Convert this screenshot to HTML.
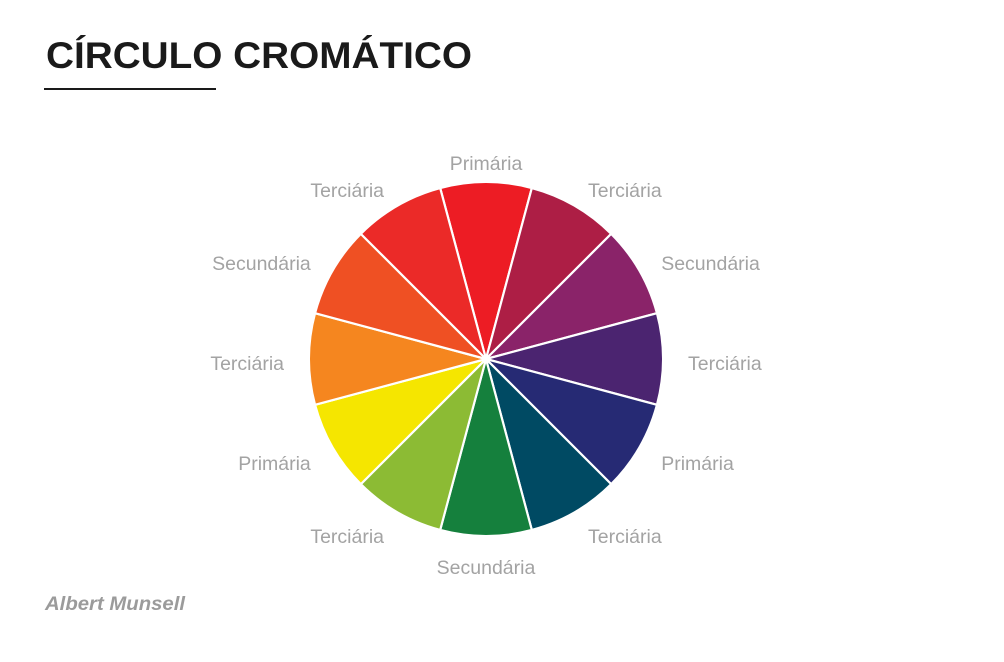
<!DOCTYPE html>
<html><head><meta charset="utf-8"><style>
body{margin:0;background:#fff;width:1004px;height:662px;overflow:hidden}
svg{display:block}
</style></head><body>
<svg id="chart" width="1004" height="662">
<text x="46" y="68" font-family="Liberation Sans, sans-serif" font-weight="bold" font-size="37" fill="#1a1a1a" textLength="426" lengthAdjust="spacingAndGlyphs">CÍRCULO CROMÁTICO</text>
<rect x="44" y="88" width="172" height="2" fill="#1a1a1a"/>
<text x="45" y="610" font-family="Liberation Sans, sans-serif" font-weight="bold" font-style="italic" font-size="19" fill="#9b9b9b" textLength="140" lengthAdjust="spacingAndGlyphs">Albert Munsell</text>
<g id="wheel"></g>
<g id="labels"></g>
</svg>
<script>
const categories=["Primária","Terciária","Secundária","Terciária","Primária","Terciária","Secundária","Terciária","Primária","Terciária","Secundária","Terciária"];
const values=[1,1,1,1,1,1,1,1,1,1,1,1];
const colors=["#ED1C24","#AD1E45","#8A2369","#4B2470","#262A74","#004A63","#15803D","#8CBB34","#F5E600","#F5861F","#EF5023","#EB2A28"];
const cx=486,cy=359,R=177;
const ns="http://www.w3.org/2000/svg";
const wheel=document.getElementById('wheel'),lab=document.getElementById('labels');
const total=values.reduce((a,b)=>a+b,0);
let acc=-values[0]/2;
function pt(frac,r){const a=frac*2*Math.PI;return [cx+r*Math.sin(a),cy-r*Math.cos(a)];}
values.forEach((v,i)=>{
  const f0=acc/total,f1=(acc+v)/total;acc+=v;
  const p0=pt(f0,R),p1=pt(f1,R);
  const large=(f1-f0)>0.5?1:0;
  const p=document.createElementNS(ns,'path');
  p.setAttribute('d',`M${cx},${cy}L${p0[0]},${p0[1]}A${R},${R} 0 ${large} 1 ${p1[0]},${p1[1]}Z`);
  p.setAttribute('fill',colors[i]);p.setAttribute('stroke','#fff');p.setAttribute('stroke-width','2.2');p.setAttribute('stroke-linejoin','round');
  
  
  wheel.appendChild(p);
  const fm=(f0+f1)/2;
  const s=Math.sin(fm*2*Math.PI);
  const c=Math.cos(fm*2*Math.PI);
  const lp=pt(fm,200);
  const t=document.createElementNS(ns,'text');
  t.setAttribute('text-anchor',Math.abs(s)<0.2?'middle':(s>0?'start':'end'));
  t.setAttribute('x',lp[0]+(Math.abs(s)<0.2?0:(s>0?2:-2)));
  t.setAttribute('y',lp[1]+11+(c<-0.9?4:0));
  t.setAttribute('font-family','Liberation Sans, sans-serif');t.setAttribute('font-size','19.5');t.setAttribute('fill','#a3a3a3');
  t.textContent=categories[i];
  
  
  lab.appendChild(t);
});
</script>
</body></html>
